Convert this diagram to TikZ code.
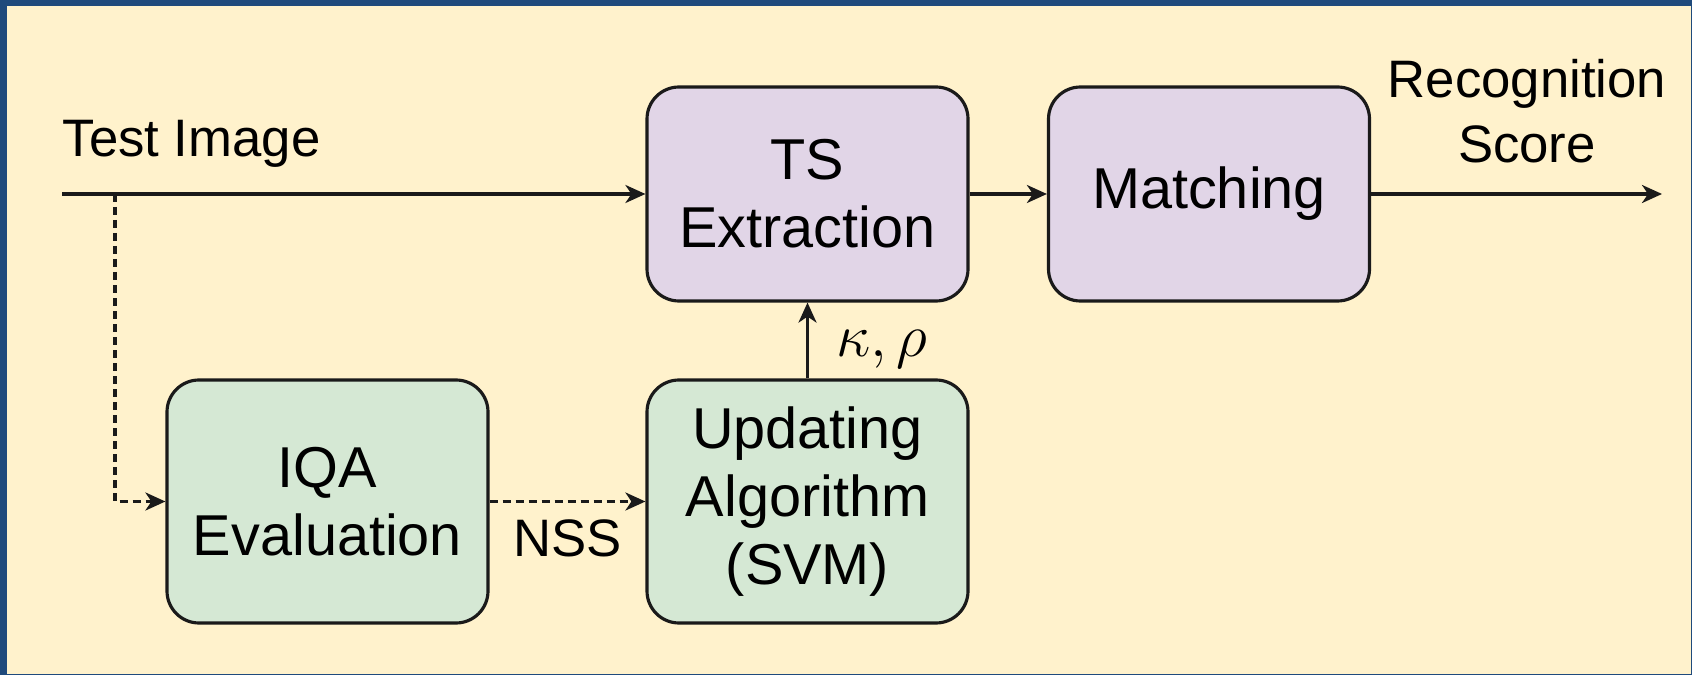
\documentclass[tikz,border=0pt]{standalone}
\usepackage{fontspec}
\setmainfont{Liberation Sans}
\usetikzlibrary{arrows.meta,positioning,calc}
\definecolor{fbFrame}{HTML}{1F4A7C}
\definecolor{fbCream}{HTML}{FFF2CC}
\definecolor{fbPurple}{HTML}{E1D5E7}
\definecolor{fbGreen}{HTML}{D5E8D4}
\definecolor{fbInk}{HTML}{1A1A1A}
\tikzset{
  blk/.style={draw=fbInk, line width=0.9pt, rounded corners=0.32cm, minimum width=3.21cm, align=center, font=\fontsize{16.4}{19.4}\selectfont},
  blkP/.style={blk, fill=fbPurple, minimum height=2.14cm},
  blkG/.style={blk, fill=fbGreen, minimum height=2.43cm},
  lbl/.style={font=\fontsize{15}{18.5}\selectfont, align=center, inner sep=0pt},
  arr/.style={-{Stealth[length=0.2cm, width=0.18cm, inset=0.06cm]}, line width=0.9pt, draw=fbInk},
  darr/.style={arr, dash pattern=on 0.08cm off 0.05cm},
}
\begin{document}
\begin{tikzpicture}
  % frame and page background
  \fill[fbFrame] (0,0) rectangle (16.92,6.75);
  \fill[fbCream] (0.07,0.01) rectangle (16.91,6.69);
  \node[blkP] (ts) at (8.075,4.81) {TS\\Extraction};
  \node[blkP] (match) at (12.09,4.81) {Matching};
  \node[blkG] (iqa) at (3.275,1.735) {IQA\\Evaluation};
  \node[blkG] (upd) at (8.075,1.735) {Updating\\Algorithm\\(SVM)};
  \coordinate (in) at (0.62,4.81);
  \coordinate (tap) at (1.15,4.81);
  \coordinate (out) at (16.62,4.81);
  \node[lbl, anchor=base west] (testimg) at (0.62,5.18) {Test Image};
  \node[lbl] (score) at (15.27,5.64) {Recognition\\Score};
  \draw[arr] (in) -- (ts);
  \draw[arr] (ts) -- (match);
  \draw[arr] (match) -- (out);
  \draw[darr] (tap) |- (iqa);
  \draw[darr] (iqa) -- node[lbl, below=0.165cm] (nss) {NSS} (upd);
  \draw[arr] (upd) -- node[pos=0.38, right=0.27cm, inner sep=0pt, font=\fontsize{19}{21}\selectfont] (kr) {$\kappa,\rho$} (ts);
\end{tikzpicture}
\end{document}
